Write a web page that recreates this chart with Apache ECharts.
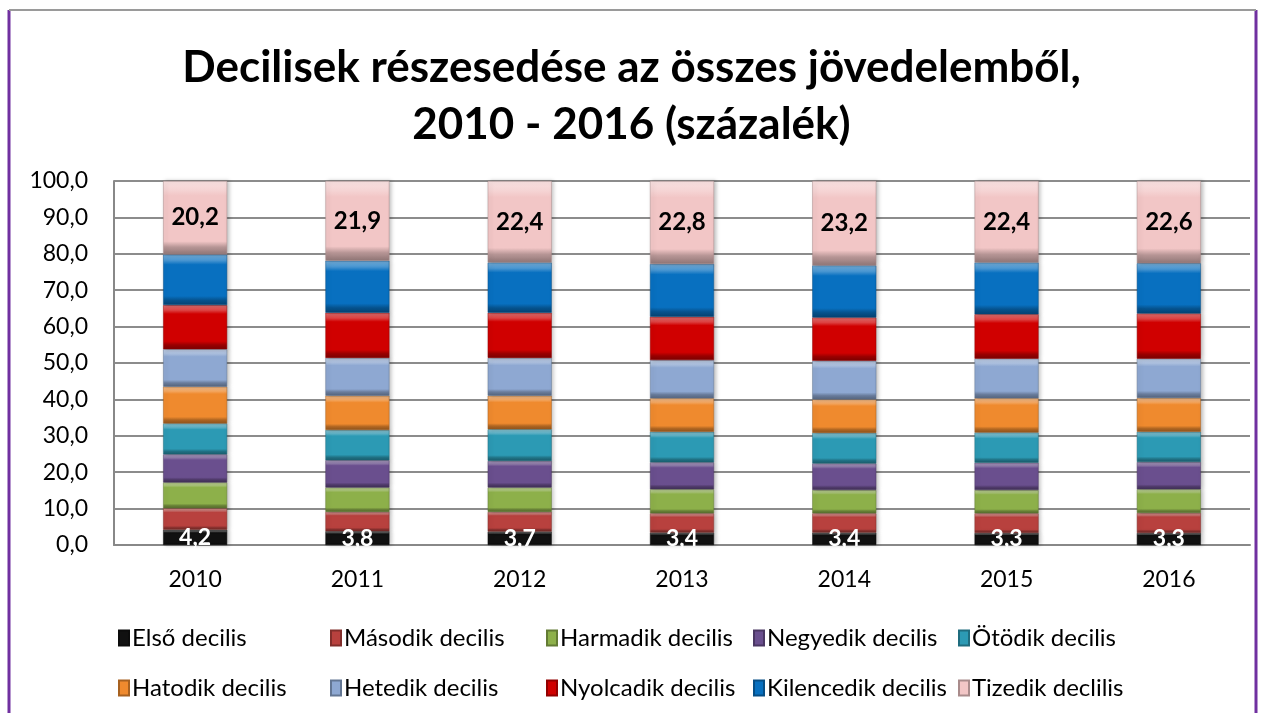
<!DOCTYPE html>
<html>
<head>
<meta charset="utf-8">
<title>Decilisek részesedése</title>
<script src="https://cdn.jsdelivr.net/npm/echarts@6/dist/echarts.min.js"></script>
<style>
  html, body { margin: 0; padding: 0; background: #fff; }
  #main { width: 1263px; height: 713px; }
</style>
</head>
<body>
<div id="main"></div>
<script>
// évek
var years = ['2010', '2011', '2012', '2013', '2014', '2015', '2016'];
var yTicks = [0, 10, 20, 30, 40, 50, 60, 70, 80, 90, 100];

// decilisek részesedése (%), leolvasva
var elso       = [4.2, 3.8, 3.7, 3.4, 3.4, 3.3, 3.3];
var masodik    = [5.9, 5.3, 5.4, 5.3, 5.3, 5.4, 5.5];
var harmadik   = [7.1, 6.7, 6.7, 6.6, 6.4, 6.4, 6.5];
var negyedik   = [7.7, 7.5, 7.3, 7.4, 7.3, 7.5, 7.5];
var otodik     = [8.5, 8.3, 8.7, 8.4, 8.4, 8.3, 8.3];
var hatodik    = [10.1, 9.4, 9.2, 9.2, 9.2, 9.4, 9.3];
var hetedik    = [10.3, 10.4, 10.4, 10.5, 10.6, 10.9, 10.8];
var nyolcadik  = [12.1, 12.4, 12.4, 11.9, 11.9, 12.2, 12.4];
var kilencedik = [13.9, 14.3, 13.8, 14.5, 14.3, 14.2, 13.8];
var tizedik    = [20.2, 21.9, 22.4, 22.8, 23.2, 22.4, 22.6];

var names = ['Első decilis', 'Második decilis', 'Harmadik decilis', 'Negyedik decilis', 'Ötödik decilis',
             'Hatodik decilis', 'Hetedik decilis', 'Nyolcadik decilis', 'Kilencedik decilis', 'Tizedik declilis'];
var values = [elso, masodik, harmadik, negyedik, otodik, hatodik, hetedik, nyolcadik, kilencedik, tizedik];
var colors = ['#111111', '#b8413e', '#8db04a', '#6a4f8e', '#2c9ab4',
              '#ef8a2e', '#8ea8d2', '#d00000', '#0870c0', '#f2c6c6'];

function fmt(v) { return v.toFixed(1).replace('.', ','); }

function shade(hex, k) {
  var n = parseInt(hex.slice(1), 16);
  var r = (n >> 16) & 255, g = (n >> 8) & 255, b = n & 255;
  function f(c) { return Math.max(0, Math.min(255, Math.round(k > 0 ? c + (255 - c) * k : c * (1 + k)))); }
  return 'rgb(' + f(r) + ',' + f(g) + ',' + f(b) + ')';
}

// domború (bevel) hatás egyszerű színátmenettel
function bevel(c) {
  return new echarts.graphic.LinearGradient(0, 0, 0, 1, [
    { offset: 0, color: shade(c, 0.45) },
    { offset: 0.12, color: shade(c, 0.25) },
    { offset: 0.2, color: c },
    { offset: 0.82, color: c },
    { offset: 0.9, color: shade(c, -0.25) },
    { offset: 1, color: shade(c, -0.4) }
  ]);
}

var series = names.map(function (n, i) {
  var s = {
    name: n,
    type: 'bar',
    stack: 'total',
    barWidth: 64,
    data: values[i],
    itemStyle: { color: bevel(colors[i]), borderColor: shade(colors[i], -0.3), borderWidth: 0.5,
                 shadowColor: 'rgba(0,0,0,0.25)', shadowBlur: 4, shadowOffsetX: 2 },
    emphasis: { disabled: true }
  };
  if (i === 0) {
    s.label = { show: true, position: 'inside', color: '#fff', fontWeight: 'bold', fontSize: 23,
                fontFamily: 'Lato', formatter: function (p) { return fmt(p.value); } };
  }
  if (i === 9) {
    s.label = { show: true, position: 'inside', color: '#000', fontWeight: 'bold', fontSize: 24,
                fontFamily: 'Lato', formatter: function (p) { return fmt(p.value); } };
  }
  return s;
});

// jelmagyarázat: 2 sor, 5 oszlop
var legendLeft = [113, 325, 541, 748, 953];
var legends = names.map(function (n, i) {
  return {
    top: i < 5 ? 621 : 671,
    left: legendLeft[i % 5],
    itemWidth: 10,
    itemHeight: 15,
    icon: 'rect',
    data: [{ name: n, itemStyle: { color: colors[i] } }],
    textStyle: { fontFamily: 'Lato', fontSize: 24, color: '#000', padding: [0, 0, 0, -2] },
    selectedMode: false
  };
});

var myChart = echarts.init(document.getElementById('main'));
var option = {
  animation: false,
  color: colors,
  title: {
    text: 'Decilisek részesedése az összes jövedelemből,\n2010 - 2016 (százalék)',
    left: 'center',
    top: 34,
    textStyle: { fontFamily: 'Lato', fontSize: 44, fontWeight: 'bold', color: '#000', lineHeight: 57 }
  },
  legend: legends,
  grid: { left: 114, right: 13, top: 181, bottom: 168, containLabel: false },
  xAxis: {
    type: 'category',
    data: years,
    axisLine: { lineStyle: { color: '#888', width: 2 } },
    axisTick: { show: false },
    axisLabel: { fontFamily: 'Lato', fontSize: 23, color: '#000', margin: 23 }
  },
  yAxis: {
    type: 'value',
    min: yTicks[0],
    max: yTicks[yTicks.length - 1],
    interval: 10,
    axisLine: { show: true, lineStyle: { color: '#888', width: 2 } },
    axisTick: { show: false },
    splitLine: { lineStyle: { color: '#8c8c8c', width: 2 } },
    axisLabel: { fontFamily: 'Lato', fontSize: 23, color: '#000', margin: 26, formatter: fmt }
  },
  graphic: [
    { type: 'line', shape: { x1: 9, y1: 10, x2: 9, y2: 713 }, style: { stroke: '#7030a0', lineWidth: 3 } },
    { type: 'line', shape: { x1: 1256, y1: 10, x2: 1256, y2: 713 }, style: { stroke: '#7030a0', lineWidth: 3 } },
    { type: 'line', shape: { x1: 9, y1: 10, x2: 1256, y2: 10 }, style: { stroke: '#9a9a9a', lineWidth: 2 } }
  ],
  series: series
};
myChart.setOption(option);
</script>
</body>
</html>
